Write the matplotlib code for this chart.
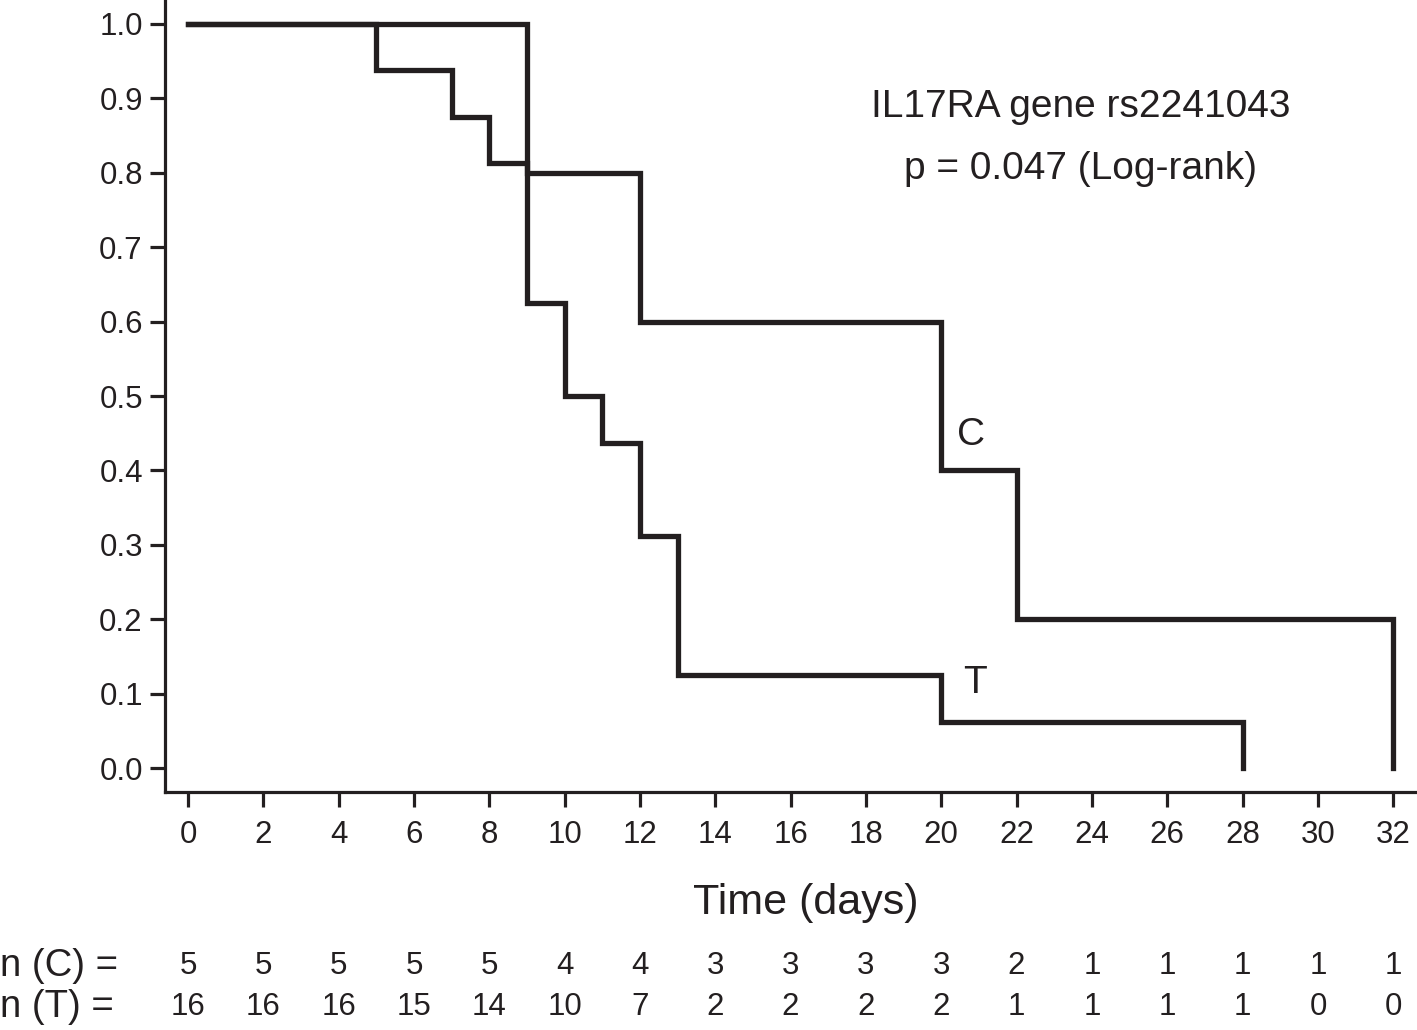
import matplotlib
matplotlib.use("Agg")
import matplotlib.pyplot as plt
import matplotlib.transforms as mtransforms

plt.rcParams['font.family'] = ['Liberation Sans', 'DejaVu Sans']

# Kaplan-Meier step data
c_times = [0, 9, 12, 20, 22, 32, 32]
c_surv = [1.0, 0.8, 0.6, 0.4, 0.2, 0.0, 0.0]
t_times = [0, 5, 7, 8, 9, 10, 11, 12, 13, 20, 28, 28]
t_surv = [1.0, 0.9375, 0.875, 0.8125, 0.625, 0.5, 0.4375, 0.3125, 0.125, 0.0625, 0.0, 0.0]

risk_times = list(range(0, 33, 2))
risk_c = [5, 5, 5, 5, 5, 4, 4, 3, 3, 3, 3, 2, 1, 1, 1, 1, 1]
risk_t = [16, 16, 16, 15, 14, 10, 7, 2, 2, 2, 2, 1, 1, 1, 1, 0, 0]

col = '#231f20'
W, H = 1417, 1030
fig = plt.figure(figsize=(W / 100, H / 100), dpi=100)
ax = fig.add_axes([165 / W, 1 - 792 / H, (W - 165) / W, 792 / H])

ax.step(c_times, c_surv, where='post', color=col, lw=3.8, solid_joinstyle='miter')
ax.step(t_times, t_surv, where='post', color=col, lw=3.8, solid_joinstyle='miter')

ax.set_xlim(-0.61, 32.63)
ax.set_ylim(-0.032, 1.032)
ax.set_xticks(risk_times)
ax.set_yticks([i / 10 for i in range(11)])
ax.set_yticklabels([f"{i/10:.1f}" for i in range(11)])

for s in ['top', 'right']:
    ax.spines[s].set_visible(False)
for s in ['left', 'bottom']:
    ax.spines[s].set_linewidth(2.3)
    ax.spines[s].set_color(col)
ax.tick_params(axis='both', length=11, width=2.3, color=col, labelsize=22.5, labelcolor=col, pad=5)
ax.tick_params(axis='x', pad=9)

ax.text(23.7, 0.888, "IL17RA gene rs2241043", ha='center', va='center', fontsize=28, color=col)
ax.text(23.7, 0.805, "p = 0.047 (Log-rank)", ha='center', va='center', fontsize=28, color=col)
ax.text(20.8, 0.448, "C", ha='center', va='center', fontsize=28, color=col)
ax.text(20.9, 0.114, "T", ha='center', va='center', fontsize=28, color=col)

fig.text(806 / W, 1 - 903 / H, "Time (days)", ha='center', va='center', fontsize=31, color=col)

trans = mtransforms.blended_transform_factory(ax.transData, fig.transFigure)
for x, c, t in zip(risk_times, risk_c, risk_t):
    ax.text(x, 1 - 966 / H, str(c), ha='center', va='center', fontsize=22.5, color=col, transform=trans, clip_on=False)
    ax.text(x, 1 - 1007 / H, str(t), ha='center', va='center', fontsize=22.5, color=col, transform=trans, clip_on=False)
fig.text(0.0, 1 - 966 / H, "n (C) =", ha='left', va='center', fontsize=27.5, color=col)
fig.text(0.0, 1 - 1007 / H, "n (T) =", ha='left', va='center', fontsize=27.5, color=col)

fig.savefig("out.png", dpi=100)
